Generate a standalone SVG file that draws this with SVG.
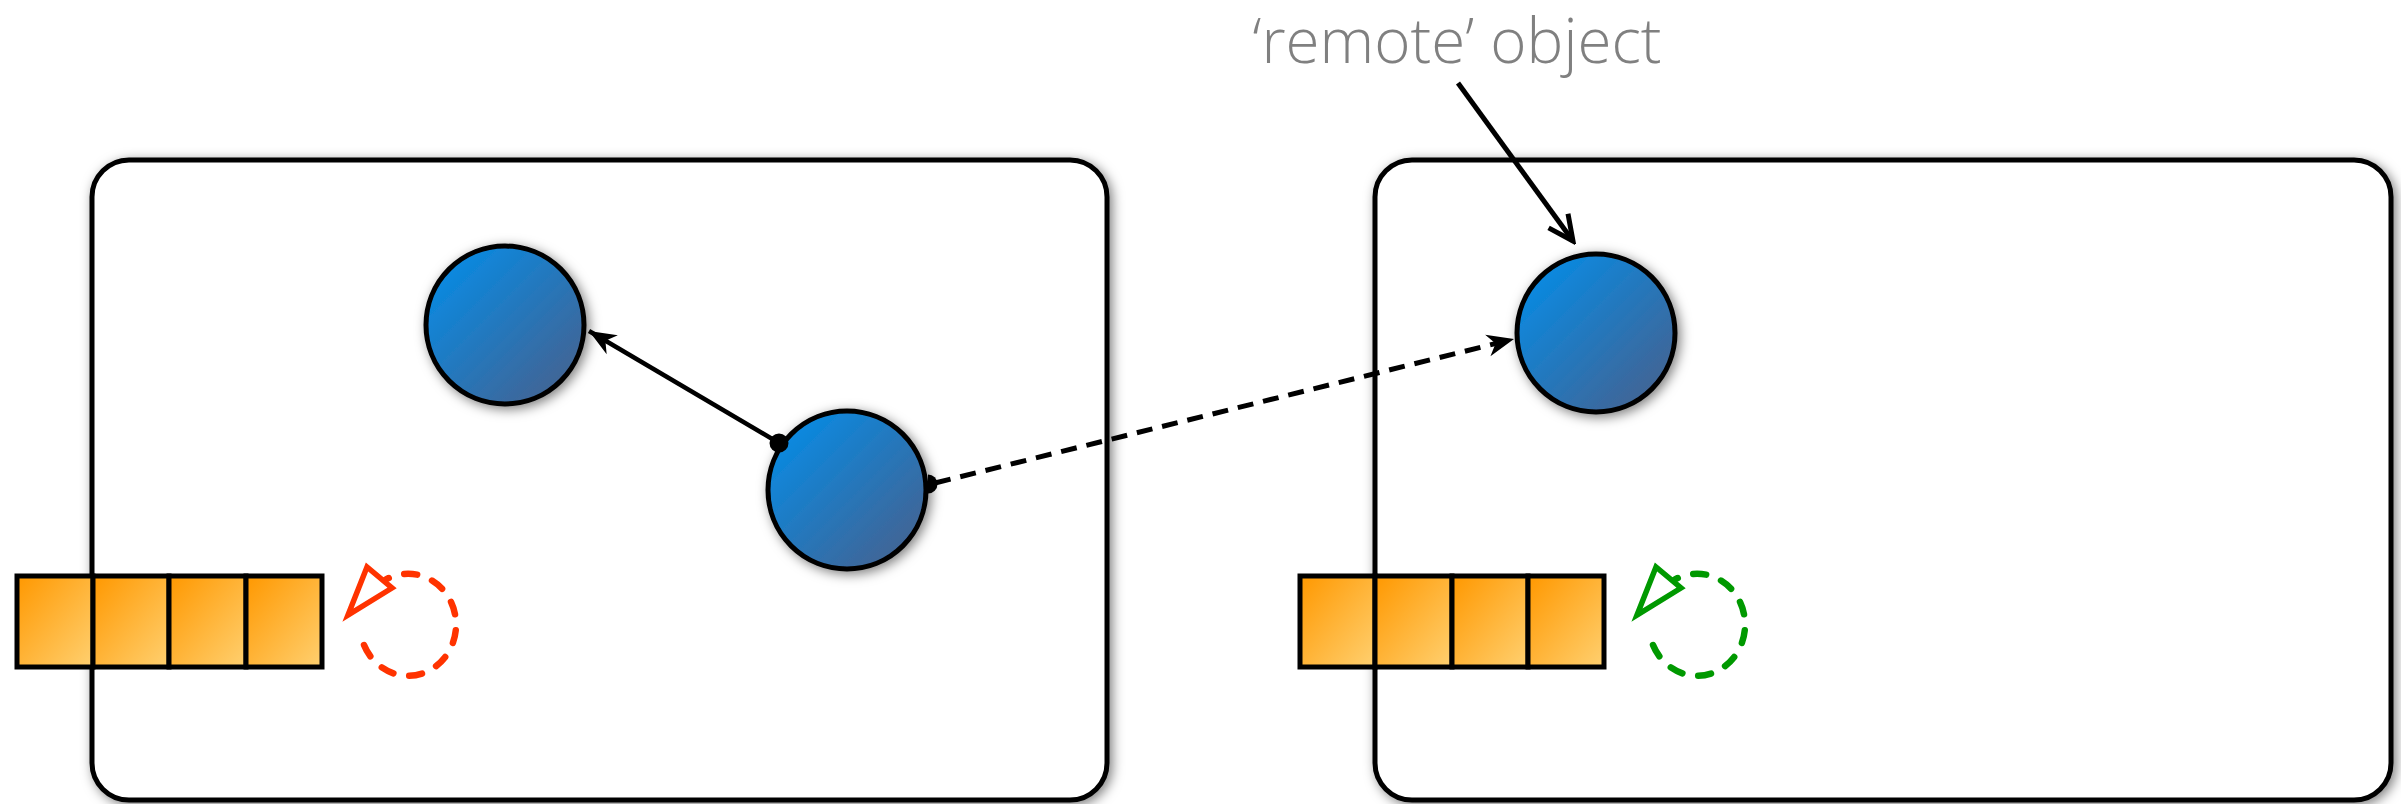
<svg xmlns="http://www.w3.org/2000/svg" width="2401" height="804" viewBox="0 0 2401 804">
  <defs>
    <style>
      .box { fill: #ffffff; stroke: #000000; stroke-width: 5; filter: url(#shadow); }
      .obj { fill: url(#blue); stroke: #000000; stroke-width: 5; filter: url(#shadow); }
      .cell { fill: url(#orange); stroke: #000000; stroke-width: 5; }
      .label { font-family: "Open Sans", "Liberation Sans", Arial, sans-serif; font-weight: 300; font-size: 62px; fill: #808080; }
      .conn { fill: none; stroke: #000000; stroke-width: 4.5; }
      .dash { stroke-width: 5; stroke-dasharray: 16 10; }
      .cyc { fill: none; stroke-width: 6.5; stroke-linecap: round; stroke-dasharray: 13 16; }
      .cychead { fill: #ffffff; stroke-width: 5.5; stroke-linejoin: miter; }
    </style>
    <linearGradient id="blue" x1="0" y1="0" x2="1" y2="1">
      <stop offset="0" stop-color="#0090EE"/>
      <stop offset="1" stop-color="#4B5E88"/>
    </linearGradient>
    <linearGradient id="orange" x1="0" y1="0" x2="1" y2="1">
      <stop offset="0" stop-color="#FF9800"/>
      <stop offset="1" stop-color="#FFD070"/>
    </linearGradient>
    <filter id="shadow" x="-10%" y="-10%" width="125%" height="125%">
      <feDropShadow dx="3" dy="3" stdDeviation="6" flood-color="#000000" flood-opacity="0.5"/>
    </filter>
    <marker id="filled" markerUnits="userSpaceOnUse" viewBox="-29 -13 32 26" refX="0" refY="0" markerWidth="32" markerHeight="26" orient="auto">
      <path d="M0,0 L-27,-11 L-19,0 L-27,11 Z" fill="#000000"/>
    </marker>
    <marker id="open" markerUnits="userSpaceOnUse" viewBox="-30 -15 34 30" refX="0" refY="0" markerWidth="34" markerHeight="30" orient="auto">
      <path d="M-25,-12 L0,0 L-25,12" fill="none" stroke="#000000" stroke-width="5"/>
    </marker>
  </defs>

  <g id="process-left">
    <rect class="box" x="92" y="160" width="1015" height="640" rx="37" ry="37"/>
  </g>
  <g id="process-right">
    <rect class="box" x="1375" y="160" width="1016" height="640" rx="37" ry="37"/>
  </g>

  <g id="queue-left">
    <rect class="cell" x="17" y="576" width="76" height="91"/>
    <rect class="cell" x="93" y="576" width="76" height="91"/>
    <rect class="cell" x="169" y="576" width="77" height="91"/>
    <rect class="cell" x="246" y="576" width="76" height="91"/>
  </g>
  <g id="queue-right">
    <rect class="cell" x="1300" y="576" width="75" height="91"/>
    <rect class="cell" x="1375" y="576" width="77" height="91"/>
    <rect class="cell" x="1452" y="576" width="76" height="91"/>
    <rect class="cell" x="1528" y="576" width="76" height="91"/>
  </g>

  <g id="loop-left" stroke="#FF3300">
    <path class="cyc" d="M364,645 A48,51 0 1 0 385,580"/>
    <polygon class="cychead" points="348,615 367,567 392,588"/>
  </g>
  <g id="loop-right" stroke="#009900" transform="translate(1289,0)">
    <path class="cyc" d="M364,645 A48,51 0 1 0 385,580"/>
    <polygon class="cychead" points="348,615 367,567 392,588"/>
  </g>

  <g id="object-a">
    <circle class="obj" cx="505" cy="325" r="79"/>
  </g>
  <g id="object-b">
    <circle class="obj" cx="847" cy="490" r="79"/>
  </g>
  <g id="object-remote">
    <circle class="obj" cx="1596" cy="333" r="79"/>
  </g>

  <g id="label-remote">
    <text class="label" x="1457" y="63" text-anchor="middle" textLength="409" lengthAdjust="spacingAndGlyphs">‘remote’ object</text>
  </g>

  <g id="connectors">
    <line class="conn" x1="779" y1="443" x2="589" y2="331" marker-end="url(#filled)"/>
    <circle cx="779" cy="443" r="9.5" fill="#000000"/>
    <line class="conn dash" x1="935" y1="483" x2="1514" y2="339" marker-end="url(#filled)"/>
    <path d="M928,474.5 A9.5,9.5 0 0 1 928,493.5 Z" fill="#000000"/>
    <line class="conn" style="stroke-width:5" x1="1458" y1="83" x2="1573" y2="241" marker-end="url(#open)"/>
  </g>
</svg>
